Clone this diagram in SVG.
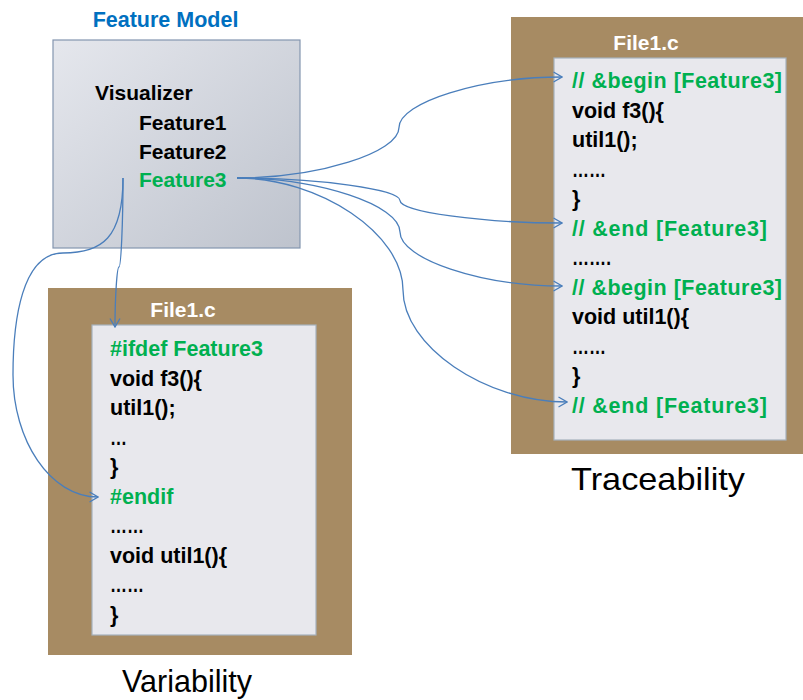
<svg xmlns="http://www.w3.org/2000/svg" width="803" height="700" viewBox="0 0 803 700">
  <defs>
    <linearGradient id="fmFill" x1="0" y1="0" x2="1" y2="1">
      <stop offset="0" stop-color="#e5e7ed"/>
      <stop offset="1" stop-color="#bec3cd"/>
    </linearGradient>
    <marker id="arrow" viewBox="-10 -6 11 12" markerWidth="11" markerHeight="12" refX="0" refY="0" orient="auto" markerUnits="userSpaceOnUse">
      <path d="M-8.5,-5 L0,0 L-8.5,5" fill="none" stroke="#4a7ebb" stroke-width="1.3"/>
    </marker>
    <style>
      .frame { fill: #a78b63; }
      .page { fill: #e8e8ed; stroke: #a6b1bc; stroke-width: 1.2; }
      .t { font-family: "Liberation Sans", Arial, sans-serif; font-weight: bold; }
      .code { font-size: 21.5px; fill: #000; }
      .hl { fill: #00b050; }
      .fname { font-size: 21px; fill: #ffffff; text-anchor: middle; }
      .caption { font-family: "Liberation Sans", Arial, sans-serif; font-size: 32px; fill: #000; }
      .link { fill: none; stroke: #4a7ebb; stroke-width: 1.3; marker-end: url(#arrow); }
    </style>
  </defs>

  <rect width="803" height="700" fill="#ffffff"/>

  <!-- Feature model -->
  <g id="feature-model">
    <text class="t" x="165.5" y="27" font-size="21.5" fill="#0070c0" text-anchor="middle">Feature Model</text>
    <rect x="53" y="40" width="247" height="208" fill="url(#fmFill)" stroke="#8496b0" stroke-width="1.2"/>
    <text class="t" x="95" y="100" font-size="21">Visualizer</text>
    <text class="t" x="139" y="130" font-size="21">Feature1</text>
    <text class="t" x="139" y="158.5" font-size="21">Feature2</text>
    <text class="t hl" x="139" y="187" font-size="21">Feature3</text>
  </g>

  <!-- Annotated source file (traceability) -->
  <g id="traceability-file">
    <rect class="frame" x="511" y="17" width="292" height="437"/>
    <rect class="page" x="554" y="58" width="232" height="382"/>
    <text class="t fname" x="646" y="50">File1.c</text>
    <g class="t code">
      <text class="hl" x="572" y="88" textLength="210" lengthAdjust="spacing">// &amp;begin [Feature3]</text>
      <text x="572" y="117.5">void f3(){</text>
      <text x="572" y="147">util1();</text>
      <text x="572" y="176.5" textLength="34" lengthAdjust="spacingAndGlyphs">……</text>
      <text x="572" y="206">}</text>
      <text class="hl" x="572" y="235.5" textLength="195" lengthAdjust="spacing">// &amp;end [Feature3]</text>
      <text x="572" y="265" textLength="39" lengthAdjust="spacingAndGlyphs">…….</text>
      <text class="hl" x="572" y="294.5" textLength="210" lengthAdjust="spacing">// &amp;begin [Feature3]</text>
      <text x="572" y="324">void util1(){</text>
      <text x="572" y="353.5" textLength="34" lengthAdjust="spacingAndGlyphs">……</text>
      <text x="572" y="383">}</text>
      <text class="hl" x="572" y="412.5" textLength="195" lengthAdjust="spacing">// &amp;end [Feature3]</text>
    </g>
    <text class="caption" x="571" y="490" textLength="174" lengthAdjust="spacingAndGlyphs">Traceability</text>
  </g>

  <!-- Preprocessed source file (variability) -->
  <g id="variability-file">
    <rect class="frame" x="48" y="288" width="304" height="367"/>
    <rect class="page" x="92" y="325" width="224" height="310"/>
    <text class="t fname" x="183" y="317">File1.c</text>
    <g class="t code">
      <text class="hl" x="110" y="356">#ifdef Feature3</text>
      <text x="110" y="385.5">void f3(){</text>
      <text x="110" y="415">util1();</text>
      <text x="110" y="444.5" textLength="17" lengthAdjust="spacingAndGlyphs">…</text>
      <text x="110" y="474">}</text>
      <text class="hl" x="110" y="503.5">#endif</text>
      <text x="110" y="533" textLength="34" lengthAdjust="spacingAndGlyphs">……</text>
      <text x="110" y="562.5">void util1(){</text>
      <text x="110" y="592" textLength="34" lengthAdjust="spacingAndGlyphs">……</text>
      <text x="110" y="621.5">}</text>
    </g>
    <text class="caption" x="122" y="692" textLength="130" lengthAdjust="spacingAndGlyphs">Variability</text>
  </g>

  <!-- Connectors from Feature3 -->
  <g id="connectors">
    <path class="link" d="M237,178 C318,178 399,152.75 399,127.5 C399,102.25 480.5,77 562,77"/>
    <path class="link" d="M237,178 C318.5,178 400,189.25 400,200.5 C400,211.75 481,223 562,223"/>
    <path class="link" d="M237,178 C318.5,178 400,205 400,232 C400,259 481,286 562,286"/>
    <path class="link" d="M237,178 C320,178 403,234 403,290 C403,346 485,402 567,402"/>
    <path class="link" d="M123,178 C123,222.5 121,267 119,267 C117,267 115,297 115,327"/>
    <path class="link" d="M123,178 C123,238 102,253 63,253 C22,253 13,320 13,375 C13,440 50,497 98,497"/>
  </g>
</svg>
